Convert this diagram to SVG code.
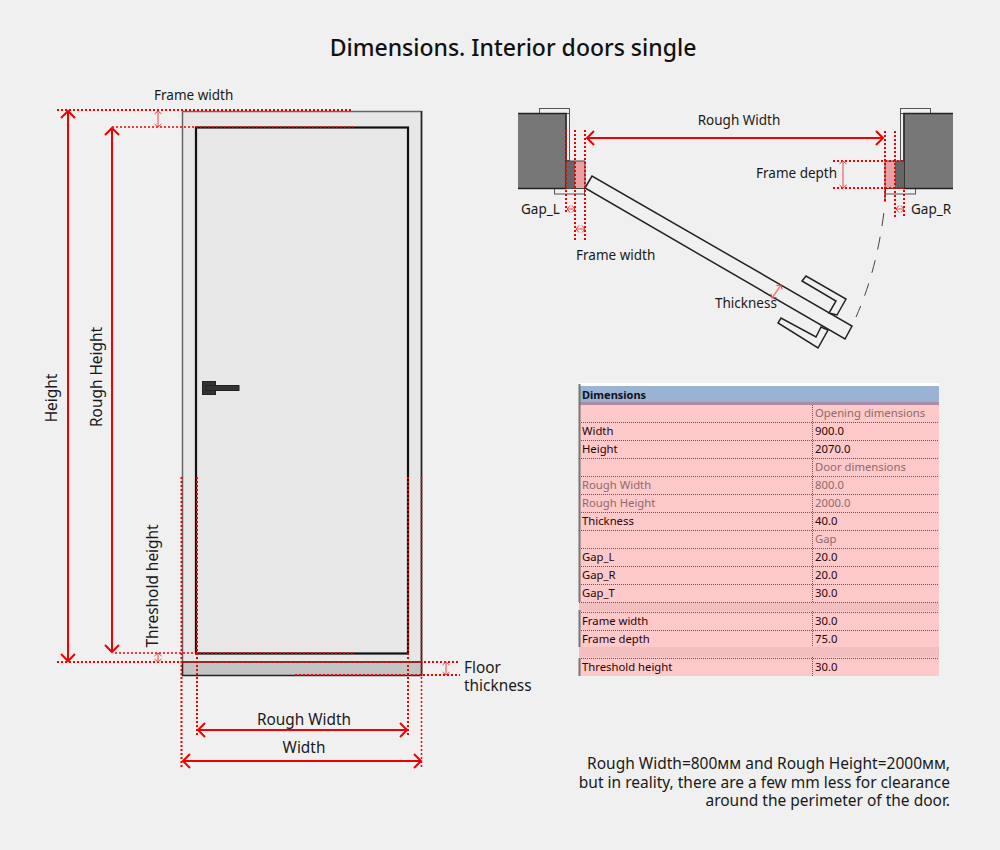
<svg xmlns="http://www.w3.org/2000/svg" width="1000" height="850" viewBox="0 0 1000 850">
<style>
text{font-family:"Noto Sans","Open Sans",sans-serif;fill:#1a1a1a}
.l{font-size:13.5px}
.m{font-size:15.4px}
.n{font-size:15.5px}
.t{font-size:11.3px;fill:#2a0505}
.g{font-size:11.3px;fill:#8f6a6a}
.d{fill:none;stroke:#f00000;stroke-width:2;stroke-dasharray:2 2}
.f{fill:none;stroke:#f00000;stroke-width:1.500;stroke-dasharray:2 2}
.a{fill:none;stroke:#f00000;stroke-width:2;marker-start:url(#o);marker-end:url(#o)}
.p{fill:none;stroke:#ef7f7f;stroke-width:1.500;marker-start:url(#s);marker-end:url(#s)}
.r{stroke:#7b4a4a;stroke-width:1;stroke-dasharray:1 1;fill:none}
.w{fill:#777;stroke:none}
.k{fill:none;stroke:#222;stroke-width:1.500}
.e{fill:#f0f0f0;stroke:#555;stroke-width:1}
</style>
<defs>
<marker id="o" viewBox="-12 -8 14 16" refX="0" refY="0" markerWidth="14" markerHeight="16" markerUnits="userSpaceOnUse" orient="auto-start-reverse"><path d="M-7,-7 L0,0 L-7,7" fill="none" stroke="#f00000" stroke-width="2"/></marker>
<marker id="s" viewBox="-6 -5 7 10" refX="0" refY="0" markerWidth="7" markerHeight="10" markerUnits="userSpaceOnUse" orient="auto-start-reverse"><path d="M-3,-3.500 L0,0 L-3,3.500" fill="none" stroke="#f04040" stroke-width="1"/></marker>
</defs>
<rect width="1000" height="850" fill="#f0f0f0"/>
<text x="513" y="56" font-size="23" font-weight="500" text-anchor="middle" style="fill:#111">Dimensions. Interior doors single</text>

<g id="door-front">
<rect x="182.500" y="111.500" width="239" height="551" fill="#e7e7e7" stroke="#666" stroke-width="1.500"/>
<path d="M421.500,111 V676" stroke="#222" stroke-width="1.500" fill="none"/>
<rect x="196" y="127.500" width="212" height="526" fill="#e7e7e7" stroke="#111" stroke-width="2.200"/>
<rect x="182.500" y="662" width="239" height="13.500" fill="#c4c4c4" stroke="#222" stroke-width="1.500"/>
<rect x="202.500" y="381.500" width="13" height="13" fill="#333" stroke="#222"/>
<rect x="206" y="385.500" width="33" height="5" fill="#333" stroke="#222"/>
</g>

<g id="door-plan">
<rect x="539.500" y="108.500" width="30" height="5" class="e"/>
<rect x="566" y="113.500" width="3.500" height="47" class="e"/>
<rect x="554.500" y="188.500" width="30" height="5.500" class="e"/>
<rect class="w" x="518" y="113.500" width="48" height="75"/>
<path d="M518,113.500 H566 V188.500 H518" class="k"/>
<rect x="566" y="161" width="9.500" height="27.500" fill="#666"/>
<rect x="575.500" y="161" width="9.500" height="27.500" fill="#e9a0a2"/>
<path d="M566,161 H585 V188.500 H566" fill="none" stroke="#444"/>

<rect x="900.500" y="108.500" width="30" height="5" class="e"/>
<rect x="900.500" y="113.500" width="3.500" height="47" class="e"/>
<rect x="885.500" y="188.500" width="30" height="5.500" class="e"/>
<rect class="w" x="904" y="113.500" width="49" height="75"/>
<path d="M953,113.500 H904 V188.500 H953" class="k"/>
<rect x="885" y="161" width="10" height="27.500" fill="#e9a0a2"/>
<rect x="895" y="161" width="9" height="27.500" fill="#666"/>
<path d="M904,161 H885 V188.500 H904" fill="none" stroke="#444"/>

<path d="M885,188 V202" stroke="#222" stroke-width="1" fill="none"/>
<path d="M885,203 Q878,268 856,317" fill="none" stroke="#444" stroke-width="1" stroke-dasharray="13 11" stroke-dashoffset="-10"/>
<polygon points="585,188 592,176 852,326 845,339" class="k" style="stroke-linejoin:miter"/>
<polygon points="837,315 846,299 806,276 802,281 836,301 829,313" class="k"/>
<polygon points="821,327 816,337 781,318 778,323 818,348 828,330" class="k"/>
</g>

<g id="connectors">
<path class="d" d="M57,110 H353 M57,662 H196 M196,662 H460 M181.500,477 V768 M197,477 V735 M408,477 V735 M295,675 H460"/>
<path class="f" d="M112,127 H353 M115,653 H353 M421.500,477 V768"/>
<path class="a" d="M68,111 V661"/>
<path class="a" d="M112,128 V652"/>
<path class="a" d="M198,730 H407"/>
<path class="a" d="M183,761 H421"/>
<path class="p" d="M158,111 V127"/>
<path class="p" d="M158,653 V662"/>
<path class="p" d="M446,662 V675"/>
<path class="d" d="M566,130 V213 M575,130 V241 M585,130 V241 M885,131 V203 M895,131 V218 M904,190 V218 M833,161 H904 M833,188 H904"/>
<path class="a" d="M587,138 H883"/>
<path class="p" d="M843,161 V188"/>
<path class="p" d="M567,209 H575"/>
<path class="p" d="M576,229 H585"/>
<path class="p" d="M896,209 H904"/>
<path class="p" d="M781,285 L772,298"/>
</g>

<g id="labels">
<text class="l" x="154" y="100">Frame width</text>
<text class="m" transform="translate(57,398) rotate(-90)" text-anchor="middle">Height</text>
<text class="m" transform="translate(102,377) rotate(-90)" text-anchor="middle">Rough Height</text>
<text class="m" transform="translate(158,586) rotate(-90)" text-anchor="middle">Threshold height</text>
<text class="m" x="304" y="725" text-anchor="middle">Rough Width</text>
<text class="m" x="304" y="753" text-anchor="middle">Width</text>
<text class="m" x="464" y="673">Floor</text>
<text class="m" x="464" y="691">thickness</text>
<text class="l" x="739" y="125" text-anchor="middle">Rough Width</text>
<text class="l" x="756" y="178">Frame depth</text>
<text class="l" x="521" y="214">Gap_L</text>
<text class="l" x="911" y="214">Gap_R</text>
<text class="l" x="576" y="260">Frame width</text>
<text class="l" x="715" y="308">Thickness</text>
<text class="n" x="950" y="769" text-anchor="end">Rough Width=800мм and Rough Height=2000мм,</text>
<text class="n" x="950" y="788" text-anchor="end">but in reality, there are a few mm less for clearance</text>
<text class="n" x="950" y="806" text-anchor="end">around the perimeter of the door.</text>
</g>

<g id="table">
<rect x="579" y="383" width="360" height="3" fill="#fff"/>
<rect x="579" y="386" width="360" height="16" fill="#9ab3d2"/>
<rect x="579" y="402" width="360" height="3" fill="#b08ba8"/>
<rect x="579" y="405" width="360" height="271" fill="#fdc9c9"/>
<rect x="579" y="603" width="360" height="8" fill="#f2bebe"/>
<rect x="579" y="647" width="360" height="10" fill="#f2bebe"/>
<path class="r" d="M579,422.500 H939 M579,440.500 H939 M579,458.500 H939 M579,476.500 H939 M579,494.500 H939 M579,512.500 H939 M579,530.500 H939 M579,548.500 H939 M579,566.500 H939 M579,584.500 H939 M579,602.500 H939 M579,612.500 H939 M579,630.500 H939 M579,658.500 H939 M812.500,405 V603 M812.500,611 V647 M812.500,657 V676"/>
<path d="M579.500,384 V602 M579.500,610 V647 M579.500,658 V676" stroke="#777" stroke-width="2" fill="none"/>
<text x="582" y="399" font-size="11" font-weight="700" style="fill:#0a1020">Dimensions</text>
<text class="g" x="815" y="417">Opening dimensions</text>
<text class="t" x="582" y="435">Width</text><text class="t" x="815" y="435">900.0</text>
<text class="t" x="582" y="453">Height</text><text class="t" x="815" y="453">2070.0</text>
<text class="g" x="815" y="471">Door dimensions</text>
<text class="g" x="582" y="489">Rough Width</text><text class="g" x="815" y="489">800.0</text>
<text class="g" x="582" y="507">Rough Height</text><text class="g" x="815" y="507">2000.0</text>
<text class="t" x="582" y="525">Thickness</text><text class="t" x="815" y="525">40.0</text>
<text class="g" x="815" y="543">Gap</text>
<text class="t" x="582" y="561">Gap_L</text><text class="t" x="815" y="561">20.0</text>
<text class="t" x="582" y="579">Gap_R</text><text class="t" x="815" y="579">20.0</text>
<text class="t" x="582" y="597">Gap_T</text><text class="t" x="815" y="597">30.0</text>
<text class="t" x="582" y="625">Frame width</text><text class="t" x="815" y="625">30.0</text>
<text class="t" x="582" y="643">Frame depth</text><text class="t" x="815" y="643">75.0</text>
<text class="t" x="582" y="671">Threshold height</text><text class="t" x="815" y="671">30.0</text>
</g>
</svg>
